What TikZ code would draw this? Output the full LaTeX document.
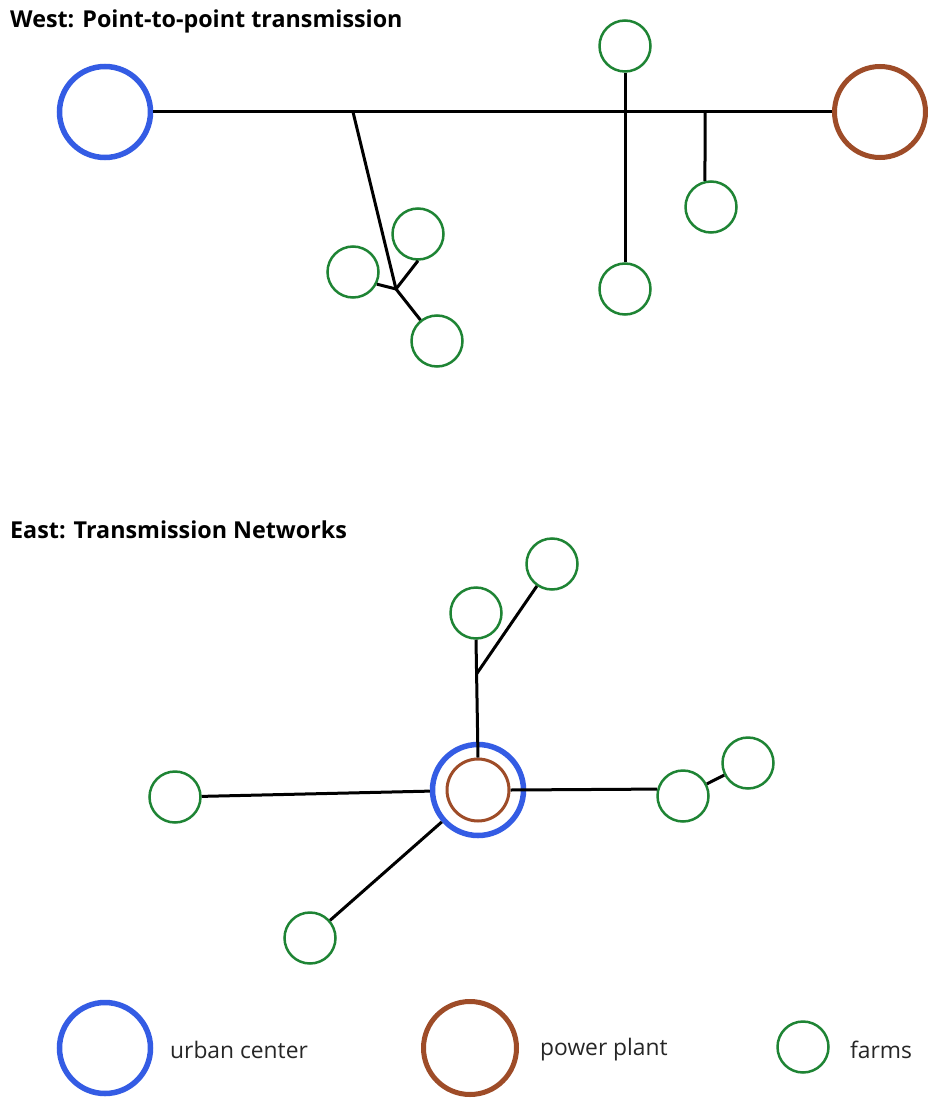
\documentclass[tikz,border=0pt]{standalone}
\usepackage{fontspec}
\usetikzlibrary{calc}
\setmainfont{Open Sans}
\definecolor{ucblue}{RGB}{52,92,228}
\definecolor{ppbrown}{RGB}{158,76,40}
\definecolor{farmgreen}{RGB}{30,132,52}
\tikzset{
  urban/.style={circle,draw=ucblue,line width=5.5pt,minimum size=91pt,inner sep=0pt},
  plant/.style={circle,draw=ppbrown,line width=5pt,minimum size=91pt,inner sep=0pt},
  plantsmall/.style={circle,draw=ppbrown,line width=3pt,minimum size=62pt,inner sep=0pt},
  farm/.style={circle,draw=farmgreen,line width=2.5pt,minimum size=51pt,inner sep=0pt},
  wire/.style={draw=black,line width=3pt},
  title/.style={anchor=west,inner sep=0pt,font=\fontsize{23.3}{27}\selectfont\bfseries},
  legendtext/.style={anchor=west,inner sep=0pt,font=\fontsize{22.8}{27}\selectfont,text=black!85}
}
\begin{document}
\begin{tikzpicture}[x=1pt,y=-1pt]
\useasboundingbox (0,0) rectangle (927,1099);
\fill[white] (0,0) rectangle (927,1099);
% ---- West
\node[title] (tw) at (10,21) {West: Point-to-point transmission};
\node[urban] (U) at (105,112) {};
\node[plant] (P) at (880,112) {};
\draw[wire] (U) -- (P);
% branch 1
\coordinate (b1) at (353,112);
\coordinate (k) at (396,289);
\node[farm] (fA) at (418,234) {};
\node[farm] (fB) at (353,272) {};
\node[farm] (fC) at (437,341) {};
\draw[wire] (b1) -- (k) -- (fC);
\draw[wire] (k) -- (fA.south);
\draw[wire] (k) -- (fB.-27);
% branch 2
\node[farm] (fT) at (625,46) {};
\node[farm] (fD) at (625,289) {};
\draw[wire] (fT) -- (fD);
% branch 3
\coordinate (b3) at (705,112);
\node[farm] (f3) at (711,207) {};
\draw[wire] (b3) -- (f3.103);
% ---- East
\node[title] (te) at (10,530) {East: Transmission Networks};
\node[urban] (UC) at (478,790) {};
\node[plantsmall] (PP) at (478,790) {};
\node[farm] (fE1) at (476,613) {};
\node[farm] (fE2) at (552,564) {};
\draw[wire] (PP.north) -- (fE1.south);
\coordinate (e1) at ($(PP.north)!0.71!(fE1.south)$);
\draw[wire] (e1) -- (fE2);
\node[farm] (fL) at (175,797) {};
\draw[wire] (UC) -- (fL);
\node[farm] (fR) at (683,796) {};
\node[farm] (fR2) at (748,763) {};
\draw[wire] (PP.east) -- (fR.165);
\draw[wire] (fR) -- (fR2);
\node[farm] (fLL) at (310,938) {};
\draw[wire] (UC) -- (fLL);
% ---- Legend
\node[urban] (LU) at (105,1048) {};
\node[legendtext] (tu) at (170,1050) {urban center};
\node[plant,minimum size=93pt] (LP) at (470,1048) {};
\node[legendtext] (tp) at (540,1050) {power plant};
\node[farm] (LF) at (803,1047) {};
\node[legendtext] (tf) at (850,1050) {farms};
\end{tikzpicture}
\end{document}
